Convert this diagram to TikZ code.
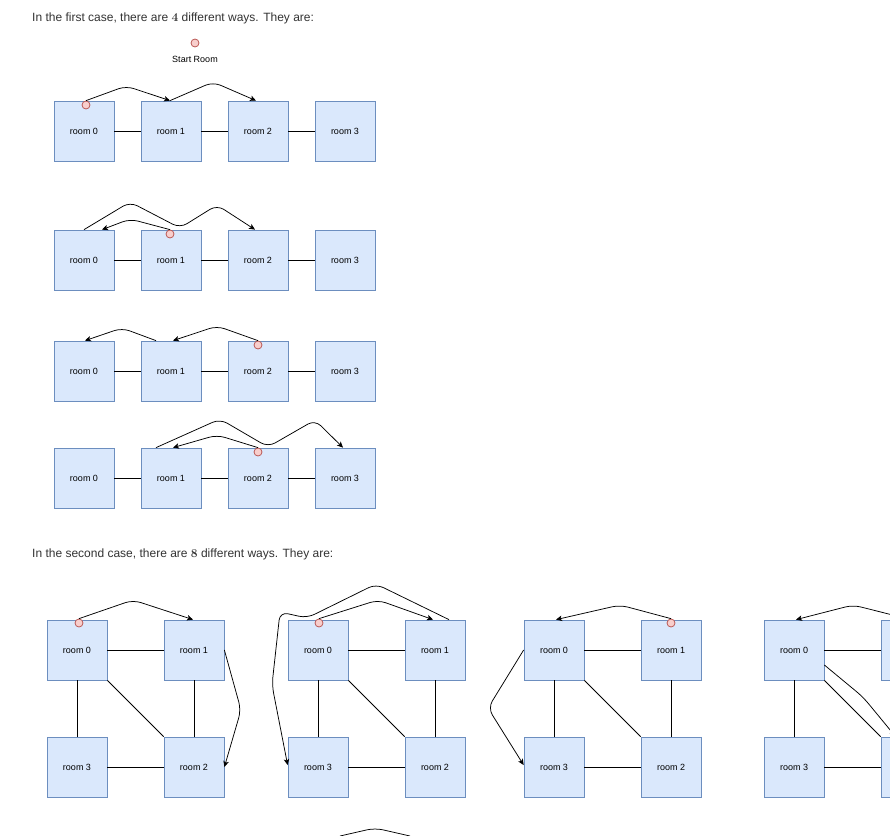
\documentclass[tikz,border=0pt]{standalone}
\usepackage[no-math]{fontspec}
\setmainfont{Liberation Sans}
\usetikzlibrary{arrows.meta}
\definecolor{boxfill}{HTML}{DAE8FC}
\definecolor{boxline}{HTML}{6C8EBF}
\definecolor{dotfill}{HTML}{F8CECC}
\definecolor{dotline}{HTML}{B85450}
\definecolor{titletxt}{HTML}{333333}
\newcommand{\titlefont}{\fontsize{12}{14}\selectfont}
\newcommand{\roomfont}{\fontsize{9}{11}\selectfont}
\tikzset{
  room/.style={draw=boxline, fill=boxfill, line width=0.75pt, minimum width=60pt, minimum height=60pt, inner sep=0pt, font=\roomfont, text=black},
  startdot/.style={circle, draw=dotline, fill=dotfill, line width=0.75pt, minimum size=8pt, inner sep=0pt},
  link/.style={draw=black, line width=0.75pt},
  walk/.style={draw=black, line width=0.75pt, rounded corners=8pt, -{Stealth[length=6pt,width=5.5pt,inset=1.5pt]}},
  walkplain/.style={draw=black, line width=0.75pt, rounded corners=8pt},
  heading/.style={anchor=base west, inner sep=0pt, font=\titlefont, text=titletxt}
}
\begin{document}
\begin{tikzpicture}[x=1pt,y=-1pt]
\useasboundingbox (0,0) rectangle (890,835);
\fill[white] (0,0) rectangle (890,835);
\clip (0,0) rectangle (890,835);

% headings
\node[heading] (t1) at (32,21) {In the first case, there are $\mathbf{4}$ different ways. They are:};
\node[heading] (t2) at (32,557) {In the second case, there are $\mathbf{8}$ different ways. They are:};

% start room legend
\node[startdot] (start) at (195,43) {};
\node[anchor=base, inner sep=0pt, font=\roomfont] (startlbl) at (195,62) {Start Room};

% first case: four rows of rooms
\foreach \r/\y in {1/131,2/260,3/371,4/478} {
  \foreach \i in {0,...,3} {
    \node[room] (a\r-\i) at ({84+87*\i},\y) {room \i};
  }
  \draw[link] (a\r-0) -- (a\r-1);
  \draw[link] (a\r-1) -- (a\r-2);
  \draw[link] (a\r-2) -- (a\r-3);
}

% row 1
\node[startdot] (s1) at (86,105) {};
\draw[walk] (s1.north) -- (126,86) -- ([xshift=-1pt]a1-1.north);
\draw[walk] ([xshift=-1pt]a1-1.north) -- (213,82) -- ([xshift=-2pt]a1-2.north);

% row 2
\node[startdot] (s2) at (170,234) {};
\draw[walk] (a2-0.north) -- (130,202) -- (180,228) -- (217,205) -- ([xshift=-3pt]a2-2.north);
\draw[walk] (s2.north) -- (130,219) -- ([xshift=18pt]a2-0.north);

% row 3
\node[startdot] (s3) at (258,345) {};
\draw[walk] (s3.north) -- (217,326) -- ([xshift=2pt]a3-1.north);
\draw[walk] ([xshift=-15pt]a3-1.north) -- (122,328) -- ([xshift=1pt]a3-0.north);

% row 4
\node[startdot] (s4) at (258,452) {};
\draw[walk] (s4.north) -- (217,435) -- ([xshift=2pt]a4-1.north);
\draw[walk] ([xshift=-15pt]a4-1.north) -- (220,419) -- (268,447) -- (315,420) -- ([xshift=-2pt]a4-3.north);

% second case: square graphs
\foreach \g/\x in {1/77,2/318,3/554} {
  \node[room] (g\g-0) at (\x,650) {room 0};
  \node[room] (g\g-1) at ({\x+117},650) {room 1};
  \node[room] (g\g-2) at ({\x+117},767) {room 2};
  \node[room] (g\g-3) at (\x,767) {room 3};
}
% graph 4, whose right column is cut by the page edge
\node[room] (g4-0) at (794,650) {room 0};
\node[room] (g4-1) at (911,650) {};
\node[room] (g4-2) at (911,767) {};
\node[room] (g4-3) at (794,767) {room 3};

\foreach \g in {1,2,3,4} {
  \draw[link] (g\g-0) -- (g\g-1);
  \draw[link] (g\g-0) -- (g\g-3);
  \draw[link] (g\g-1) -- (g\g-2);
  \draw[link] (g\g-3) -- (g\g-2);
  \draw[link] (g\g-0.south east) -- (g\g-2.north west);
}

% graph 1
\node[startdot] (d1) at (79,623) {};
\draw[walk] (d1.north) -- (133,600) -- ([xshift=-1pt]g1-1.north);
\draw[walk] (g1-1.east) -- (241,710) -- (g1-2.east);

% graph 2
\node[startdot] (d2) at (319,623) {};
\draw[walk] (d2.north) -- (378,600) -- ([xshift=-2pt]g2-1.north);
\draw[walk] ([xshift=14pt]g2-1.north) -- (376,584) -- (307,618) -- (280,612) -- (272,685) -- ([yshift=2pt]g2-3.west);

% graph 3
\node[startdot] (d3) at (671,623) {};
\draw[walk] (d3.north) -- (620,605) -- ([xshift=2pt]g3-0.north);
\draw[walk] (g3-0.west) -- (488,708) -- ([yshift=2pt]g3-3.west);

% graph 4
\draw[walk] (g4-1.north) -- (853,605) -- ([xshift=2pt]g4-0.north);
\draw[walk] ([yshift=-15pt]g4-0.east) -- (863,697) -- ([xshift=15pt]g4-2.north west);

% next row, cut by the bottom edge
\coordinate (nxa) at (340,836);
\coordinate (nxb) at (410,836);
\draw[walkplain] (nxa) -- (375,828) -- (nxb);
\end{tikzpicture}
\end{document}
